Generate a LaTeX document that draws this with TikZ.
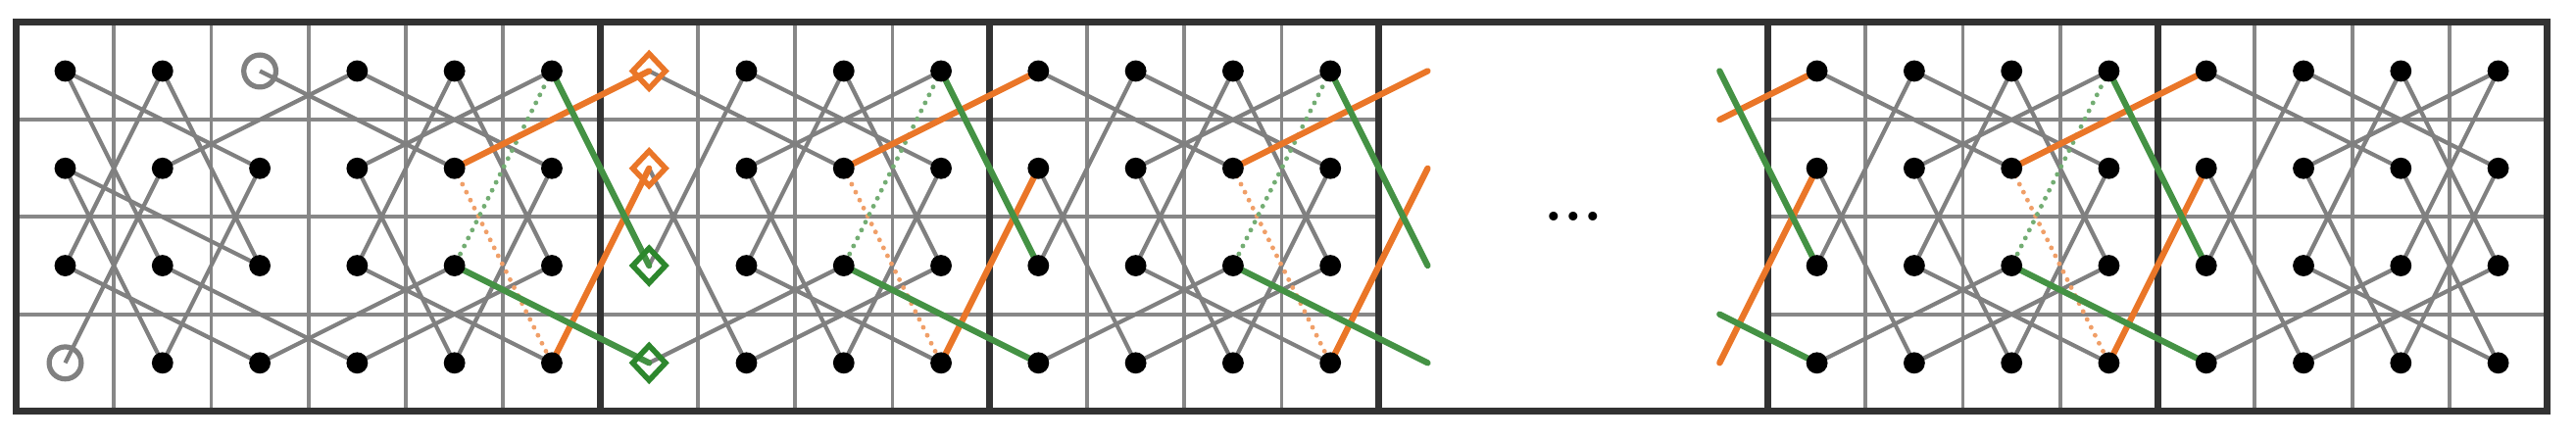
\documentclass[tikz,border=0pt]{standalone}
\usetikzlibrary{shapes.geometric,calc}
\definecolor{edgegray}{RGB}{128,128,128}
\definecolor{gridgray}{RGB}{135,135,135}
\definecolor{framedark}{RGB}{50,50,50}
\definecolor{myorange}{RGB}{234,118,40}
\definecolor{mygreen}{RGB}{68,146,68}
\definecolor{diagreen}{RGB}{45,135,45}
\begin{document}
\begin{tikzpicture}[x=1cm,y=1cm,
  gridline/.style={draw=gridgray, line width=1.1pt},
  blockline/.style={draw=framedark, line width=2pt},
  edge/.style={draw=edgegray, line width=1.2pt},
  olink/.style={draw=myorange, line width=1.8pt, line cap=round},
  glink/.style={draw=mygreen, line width=1.8pt, line cap=round},
  odot/.style={draw=myorange!70!white, line width=1.4pt, line cap=round, dash pattern=on 0pt off 2.6pt},
  gdot/.style={draw=mygreen!75!white, line width=1.4pt, line cap=round, dash pattern=on 0pt off 2.6pt},
  dotnode/.style={circle, fill=black, minimum size=0.22cm, inner sep=0pt},
  endnode/.style={circle, draw=edgegray, line width=1.5pt, minimum size=0.33cm, inner sep=0pt},
  odia/.style={diamond, draw=myorange, line width=1.6pt, minimum width=0.36cm, minimum height=0.38cm, inner sep=0pt},
  gdia/.style={diamond, draw=diagreen, line width=1.6pt, minimum width=0.36cm, minimum height=0.38cm, inner sep=0pt}
]
\useasboundingbox (-0.17,-0.29) rectangle (26.30,4.23);

% cell centres
\foreach \cc in {0,...,25} {
  \foreach \rr in {0,...,3} {
    \coordinate (p-\cc-\rr) at (\cc+0.5, 3.5-\rr);
  }
}

% grid
\foreach \x in {1,2,3,4,5,7,8,9,11,12,13,19,20,21,23,24,25}
  \draw[gridline] (\x,0) -- (\x,4);
\foreach \y in {1,2,3} {
  \draw[gridline] (0,\y) -- (14,\y);
  \draw[gridline] (18,\y) -- (26,\y);
}
\foreach \x in {6,10,14,18,22}
  \draw[blockline] (\x,0) -- (\x,4);
\draw[blockline] (0,0) rectangle (26,4);

% first block (columns 0-5)
\foreach \ia/\ib/\ic/\id in {0/0/2/1, 0/0/1/2, 1/0/0/2, 1/0/2/2, 2/0/4/1, 3/0/1/1, 3/0/5/1,
  4/0/3/2, 4/0/5/2, 5/0/3/1, 0/1/2/2, 0/1/1/3, 1/1/0/3, 2/1/1/3, 3/1/4/3, 5/1/4/3,
  0/2/2/3, 1/2/3/3, 3/2/5/3, 5/2/3/3, 2/3/4/2}
  \draw[edge] (p-\ia-\ib) -- (p-\ic-\id);

% 4x4 blocks
\foreach \s in {6,10,18,22} {
  \foreach \ia/\ib/\ic/\id in {0/0/2/1, 1/0/3/1, 2/0/1/2, 2/0/3/2, 3/0/1/1, 1/1/2/3,
    3/1/2/3, 1/2/3/3, 3/2/1/3, 0/3/2/2, 0/1/1/3, 0/2/1/0} {
    \pgfmathtruncatemacro\ca{\s+\ia}
    \pgfmathtruncatemacro\cb{\s+\ic}
    \draw[edge] (p-\ca-\ib) -- (p-\cb-\id);
  }
}
% closing edges of the last block
\draw[edge] (p-25-0) -- (p-24-2);
\draw[edge] (p-24-1) -- (p-25-3);

% removed edges and links between blocks
\foreach \s in {2,6,10,18} {
  \pgfmathtruncatemacro\sa{\s+2}
  \pgfmathtruncatemacro\sb{\s+3}
  \pgfmathtruncatemacro\sn{\s+4}
  \draw[odot] (p-\sa-1) -- (p-\sb-3);
  \draw[gdot] (p-\sb-0) -- (p-\sa-2);
  \draw[olink] (p-\sa-1) -- (p-\sn-0);
  \draw[olink] (p-\sb-3) -- (p-\sn-1);
  \draw[glink] (p-\sb-0) -- (p-\sn-2);
  \draw[glink] (p-\sa-2) -- (p-\sn-3);
}
% links entering the block after the gap
\coordinate (q-a) at ($(p-16-1)!0.5!(p-18-0)$);
\coordinate (q-b) at ($(p-16-2)!0.5!(p-18-3)$);
\draw[olink] (q-a) -- (p-18-0);
\draw[olink] (p-17-3) -- (p-18-1);
\draw[glink] (p-17-0) -- (p-18-2);
\draw[glink] (q-b) -- (p-18-3);

% nodes
\foreach \cc in {1,3,4,5,7,8,9,10,11,12,13,18,19,20,21,22,23,24,25} {
  \foreach \rr in {0,...,3} {
    \node[dotnode] (n-\cc-\rr) at (p-\cc-\rr) {};
  }
}
\foreach \rr in {0,1,2} \node[dotnode] (n-0-\rr) at (p-0-\rr) {};
\foreach \rr in {1,2,3} \node[dotnode] (n-2-\rr) at (p-2-\rr) {};
\node[endnode] (n-2-0) at (p-2-0) {};
\node[endnode] (n-0-3) at (p-0-3) {};
\node[odia] (n-6-0) at (p-6-0) {};
\node[odia] (n-6-1) at (p-6-1) {};
\node[gdia] (n-6-2) at (p-6-2) {};
\node[gdia] (n-6-3) at (p-6-3) {};

\node[anchor=base, inner sep=0pt] (dots) at (16,1.955) {\fontsize{18}{20}\selectfont\bfseries ...};
\end{tikzpicture}
\end{document}
